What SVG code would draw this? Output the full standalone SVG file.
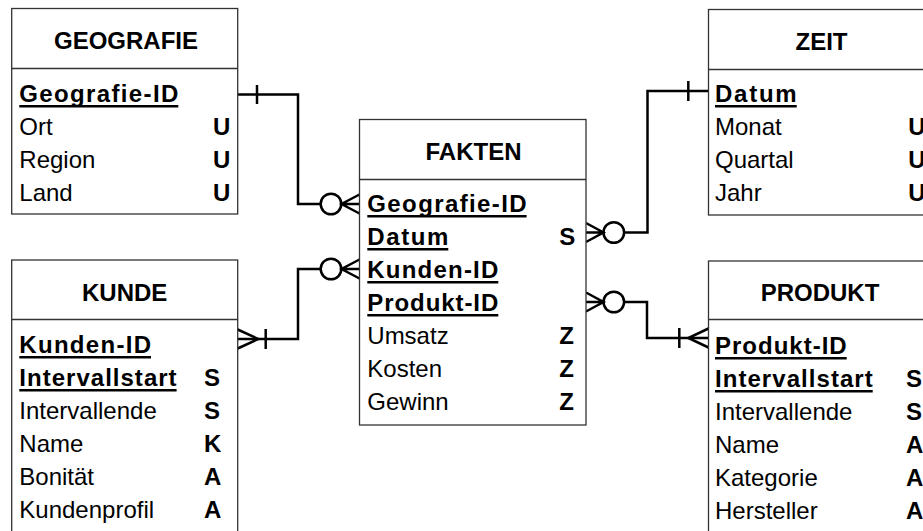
<svg xmlns="http://www.w3.org/2000/svg" width="923" height="531" viewBox="0 0 923 531">
<style>
.box{fill:#fff;stroke:#333;stroke-width:1.3}
.div{stroke:#333;stroke-width:1.3}
text{font-family:"Liberation Sans",Arial,sans-serif;font-size:24px;fill:#000}
.t{font-weight:bold;text-anchor:middle}
.k{font-weight:bold}
.b{font-weight:bold}
.ul{stroke:#000;stroke-width:2.4}
.c{fill:none;stroke:#000;stroke-width:2.5}
.o{fill:#fff;stroke:#000;stroke-width:2.5}
</style>
<rect width="923" height="531" fill="#fff"/>
<g id="connectors">
  <!-- Geografie -->
  <path class="c" d="M237.7,94.5 H298 V204 H320.5"/>
  <path class="c" d="M257,85 V104"/>
  <circle class="o" cx="331" cy="204" r="10.3"/>
  <path class="c" d="M359.5,194.5 L341.5,204 L359.5,213.5 M341.5,204 H359.5"/>
  <!-- Zeit -->
  <path class="c" d="M624.3,232.5 H647.5 V91 H708.5"/>
  <path class="c" d="M688.3,81 V101"/>
  <circle class="o" cx="613.8" cy="232.5" r="10.3"/>
  <path class="c" d="M586,223 L603.5,232.5 L586,242 M586,232.5 H603.5"/>
  <!-- Kunde -->
  <path class="c" d="M320.5,269 H298 V339 H237.7"/>
  <circle class="o" cx="331" cy="269" r="10.3"/>
  <path class="c" d="M359.5,259.5 L341.5,269 L359.5,278.5 M341.5,269 H359.5"/>
  <path class="c" d="M265.7,329 V349"/>
  <path class="c" d="M237.7,329.5 L258.3,339 L237.7,348.5"/>
  <!-- Produkt -->
  <path class="c" d="M624.3,302 H647 V338 H708.5"/>
  <circle class="o" cx="613.8" cy="302" r="10.3"/>
  <path class="c" d="M586,292.5 L603.5,302 L586,311.5 M586,302 H603.5"/>
  <path class="c" d="M679.3,328 V348"/>
  <path class="c" d="M708.5,328.5 L688.3,338 L708.5,347.5"/>
</g>
<g id="geografie">
  <rect class="box" x="11.7" y="8.5" width="226" height="205.5"/>
  <line class="div" x1="11.7" y1="68.5" x2="237.7" y2="68.5"/>
  <text class="t" x="126" y="48.5">GEOGRAFIE</text>
  <text class="k" x="19.3" y="101.7" textLength="159" lengthAdjust="spacing">Geografie-ID</text>
  <line class="ul" x1="19.3" y1="106.2" x2="178.3" y2="106.2"/>
  <text x="19.3" y="134.7">Ort</text><text class="b" x="213" y="134.7">U</text>
  <text x="19.3" y="167.7">Region</text><text class="b" x="213" y="167.7">U</text>
  <text x="19.3" y="200.7">Land</text><text class="b" x="213" y="200.7">U</text>
</g>
<g id="zeit">
  <rect class="box" x="708.5" y="9.5" width="226" height="205.5"/>
  <line class="div" x1="708.5" y1="69.5" x2="934.5" y2="69.5"/>
  <text class="t" x="821.5" y="50">ZEIT</text>
  <text class="k" x="715" y="101.7" textLength="81.7" lengthAdjust="spacing">Datum</text>
  <line class="ul" x1="715" y1="106.2" x2="796.7" y2="106.2"/>
  <text x="715" y="134.7">Monat</text><text class="b" x="908.3" y="134.7">U</text>
  <text x="715" y="167.7">Quartal</text><text class="b" x="908.3" y="167.7">U</text>
  <text x="715" y="200.7">Jahr</text><text class="b" x="908.3" y="200.7">U</text>
</g>
<g id="fakten">
  <rect class="box" x="359.5" y="119.5" width="226.5" height="305.5"/>
  <line class="div" x1="359.5" y1="179.5" x2="586" y2="179.5"/>
  <text class="t" x="473.5" y="160">FAKTEN</text>
  <text class="k" x="367.3" y="211.7" textLength="159.3" lengthAdjust="spacing">Geografie-ID</text>
  <line class="ul" x1="367.3" y1="216.2" x2="526.6" y2="216.2"/>
  <text class="k" x="367.3" y="244.7" textLength="81" lengthAdjust="spacing">Datum</text>
  <line class="ul" x1="367.3" y1="249.2" x2="448.3" y2="249.2"/>
  <text class="b" x="559.3" y="244.7">S</text>
  <text class="k" x="367.3" y="277.7" textLength="131" lengthAdjust="spacing">Kunden-ID</text>
  <line class="ul" x1="367.3" y1="282.2" x2="498.3" y2="282.2"/>
  <text class="k" x="367.3" y="310.7" textLength="131" lengthAdjust="spacing">Produkt-ID</text>
  <line class="ul" x1="367.3" y1="315.2" x2="498.3" y2="315.2"/>
  <text x="367.3" y="343.7">Umsatz</text><text class="b" x="559.3" y="343.7">Z</text>
  <text x="367.3" y="376.7">Kosten</text><text class="b" x="559.3" y="376.7">Z</text>
  <text x="367.3" y="409.7">Gewinn</text><text class="b" x="559.3" y="409.7">Z</text>
</g>
<g id="kunde">
  <rect class="box" x="11.7" y="260" width="226" height="290"/>
  <line class="div" x1="11.7" y1="319.5" x2="237.7" y2="319.5"/>
  <text class="t" x="124.7" y="301">KUNDE</text>
  <text class="k" x="19.3" y="352.7" textLength="131.7" lengthAdjust="spacing">Kunden-ID</text>
  <line class="ul" x1="19.3" y1="357.2" x2="151" y2="357.2"/>
  <text class="k" x="19.3" y="385.7" textLength="157.3" lengthAdjust="spacing">Intervallstart</text>
  <line class="ul" x1="19.3" y1="390.2" x2="176.6" y2="390.2"/>
  <text class="b" x="204" y="385.7">S</text>
  <text x="19.3" y="418.7">Intervallende</text><text class="b" x="204" y="418.7">S</text>
  <text x="19.3" y="451.7">Name</text><text class="b" x="204" y="451.7">K</text>
  <text x="19.3" y="484.7">Bonität</text><text class="b" x="204" y="484.7">A</text>
  <text x="19.3" y="517.7">Kundenprofil</text><text class="b" x="204" y="517.7">A</text>
</g>
<g id="produkt">
  <rect class="box" x="708.5" y="261" width="226" height="290"/>
  <line class="div" x1="708.5" y1="319.5" x2="934.5" y2="319.5"/>
  <text class="t" x="820" y="301">PRODUKT</text>
  <text class="k" x="715" y="353.7" textLength="131.7" lengthAdjust="spacing">Produkt-ID</text>
  <line class="ul" x1="715" y1="358.2" x2="846.7" y2="358.2"/>
  <text class="k" x="715" y="386.7" textLength="157.7" lengthAdjust="spacing">Intervallstart</text>
  <line class="ul" x1="715" y1="391.2" x2="872.7" y2="391.2"/>
  <text class="b" x="906" y="386.7">S</text>
  <text x="715" y="419.7">Intervallende</text><text class="b" x="906" y="419.7">S</text>
  <text x="715" y="452.7">Name</text><text class="b" x="906" y="452.7">A</text>
  <text x="715" y="485.7">Kategorie</text><text class="b" x="906" y="485.7">A</text>
  <text x="715" y="518.7">Hersteller</text><text class="b" x="906" y="518.7">A</text>
</g>
</svg>
